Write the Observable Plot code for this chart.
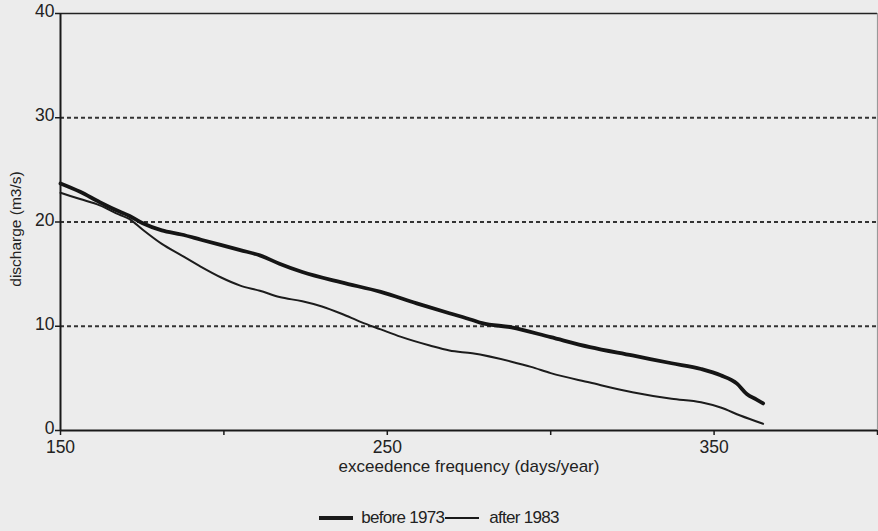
<!DOCTYPE html>
<html><head><meta charset="utf-8">
<script src="https://cdn.jsdelivr.net/npm/d3@7"></script>
<script src="https://cdn.jsdelivr.net/npm/@observablehq/plot@0.6"></script>
<style>
html,body{margin:0;padding:0;background:#ececec;font-family:"Liberation Sans",Arial,sans-serif;width:878px;overflow:hidden;}
#legend{display:flex;align-items:center;justify-content:center;margin-top:28px;font-size:17px;letter-spacing:-0.7px;color:#222;padding-left:0px;}
#legend .sw{display:inline-block;width:34px;background:#1a1a1a;margin-right:8px;}
</style></head><body>
<div id="chart"></div>
<div id="legend"><span class="sw" style="height:4px"></span><span>before 1973</span><span class="sw" style="height:2px;margin-left:1px"></span><span style="margin-left:2px">after 1983</span></div>
<script>
const beforeDays = [150,156,162,168,171,175,181,187,193,199,205,211,217,224,236,248,259,269,276,279,288,300,312,325,337,346,352,357,360,363,365];
const beforeQ    = [23.7,22.9,21.9,21.0,20.6,19.9,19.2,18.8,18.3,17.8,17.3,16.8,16.0,15.2,14.2,13.3,12.2,11.25,10.6,10.3,9.9,8.95,8.0,7.2,6.45,5.9,5.3,4.5,3.5,2.97,2.6];
const afterDays  = [150,156,162,168,171,175,181,187,193,199,205,211,217,224,230,236,242,248,254,263,269,276,288,294,300,312,325,337,346,352,358,365];
const afterQ     = [22.8,22.2,21.6,20.7,20.3,19.3,17.9,16.8,15.7,14.7,13.9,13.4,12.8,12.4,11.9,11.2,10.4,9.7,9.0,8.15,7.67,7.4,6.6,6.1,5.5,4.6,3.67,3.04,2.7,2.2,1.44,0.64];
const yTicks = [0,10,20,30,40];
const gridLevels = [10,20,30];
const xTicks = [150,200,250,300,350,400];
const xLabeled = [150,250,350];
const xLabel = "exceedence frequency (days/year)";
const yLabel = "discharge (m3/s)";

const before = beforeDays.map((d,i)=>({d, q: beforeQ[i]}));
const after = afterDays.map((d,i)=>({d, q: afterQ[i]}));

const chart = Plot.plot({
  width: 878, height: 480,
  marginLeft: 60, marginRight: 1, marginTop: 13, marginBottom: 50,
  style: {background: "transparent", fontFamily: "'Liberation Sans', Arial, sans-serif", color: "#222"},
  x: {domain: [150, 400]},
  y: {domain: [0, 40]},
  marks: [
    Plot.ruleY(gridLevels, {stroke: "#333", strokeWidth: 2, strokeDasharray: "4,3"}),
    Plot.ruleY([40], {stroke: "#222", strokeWidth: 1.6}),
    Plot.ruleX([400], {stroke: "#999", strokeWidth: 1.2}),
    Plot.line(after, {x: "d", y: "q", stroke: "#1c1c1c", strokeWidth: 2, curve: "monotone-x"}),
    Plot.line(before, {x: "d", y: "q", stroke: "#151515", strokeWidth: 3.8, curve: "monotone-x"}),
    Plot.ruleY([0], {stroke: "#1a1a1a", strokeWidth: 2}),
    Plot.ruleX([150], {stroke: "#1a1a1a", strokeWidth: 2}),
    Plot.axisY({ticks: yTicks, tickSize: 5, label: null, tickFormat: () => "", stroke: "#1a1a1a", strokeWidth: 1.5}),
    Plot.axisY({ticks: yTicks, tickSize: 0, tickPadding: 6, label: null, fontSize: 17.5, dy: -2, style: {letterSpacing: "-1px"}}),
    Plot.axisX({ticks: xTicks, tickSize: 5, tickPadding: 5, label: null, fontSize: 17.5, stroke: "#1a1a1a", strokeWidth: 1.5,
      tickFormat: d => xLabeled.includes(d) ? String(d) : "", style: {letterSpacing: "-1px"}}),
    Plot.text([xLabel], {frameAnchor: "bottom", dy: 41, text: d => d, fontSize: 17, fill: "#222", style: {letterSpacing: "-0.7px"}}),
    Plot.text([yLabel], {frameAnchor: "left", textAnchor: "middle", dx: -44, dy: 7, rotate: -90, text: d => d, fontSize: 15.5, fill: "#222", style: {letterSpacing: "-0.6px"}})
  ]
});
document.getElementById("chart").appendChild(chart);
</script>
</body></html>
